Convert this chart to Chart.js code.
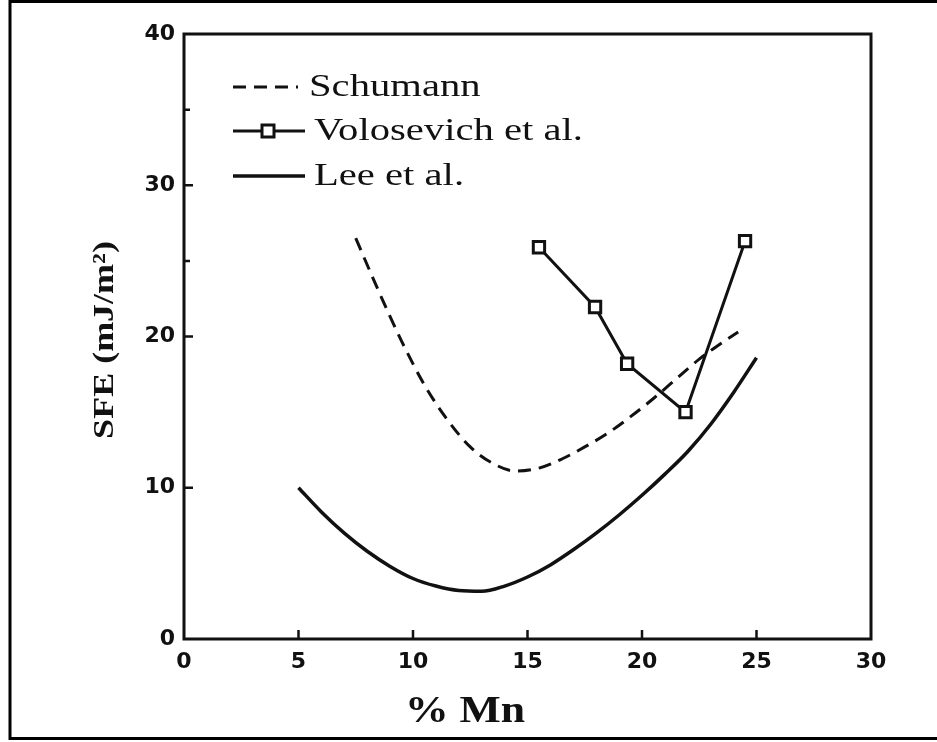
<!DOCTYPE html>
<html>
<head>
<meta charset="utf-8">
<script src="https://cdn.jsdelivr.net/npm/chart.js@4.4.1/dist/chart.umd.min.js"></script>
<style>
  html, body { margin: 0; padding: 0; background: #fff; }
  #wrap { width: 937px; height: 742px; }
</style>
</head>
<body>
<div id="wrap"><canvas id="sfeChart" width="937" height="742"></canvas></div>
<script>
// SFE vs Mn content

// Schumann (dashed curve)
const schumannMn  = [7.5, 8.5, 9.5, 10.5, 11.5, 12.5, 13.5, 14.5, 15.5, 16.5, 17.5, 18.5, 19.5, 20.5, 21.5, 22.5, 23.5, 24.2];
const schumannSfe = [26.5, 23.0, 19.7, 16.8, 14.5, 12.7, 11.6, 11.1, 11.3, 11.9, 12.7, 13.6, 14.7, 15.9, 17.2, 18.5, 19.6, 20.3];

// Volosevich et al. (squares joined by straight lines)
const voloMn  = [15.5, 17.95, 19.35, 21.9, 24.5];
const voloSfe = [25.9, 21.95, 18.2, 15.0, 26.3];

// Lee et al. (solid curve)
const leeMn  = [5, 6, 7, 8, 9, 10, 11, 12, 13, 14, 15, 16, 17, 18, 19, 20, 21, 22, 23, 24, 25];
const leeSfe = [10.0, 8.4, 7.0, 5.8, 4.8, 4.0, 3.5, 3.2, 3.15, 3.5, 4.1, 4.9, 5.9, 7.0, 8.2, 9.5, 10.9, 12.4, 14.2, 16.3, 18.6];

// axis ticks
const xTicks = [0, 5, 10, 15, 20, 25, 30];
const yTicks = [0, 10, 20, 30, 40];
const yMinorTicks = [25, 35];

const legendNames = ['Schumann', 'Volosevich et al.', 'Lee et al.'];

const ink = '#111';
const serif = '"Liberation Serif", "DejaVu Serif", serif';

// helper: zip two arrays into {x, y} points
function toPoints(xs, ys) {
    return xs.map((x, i) => ({ x: x, y: ys[i] }));
}

// text that is a bit wider than the font, like the scanned figure
function wideText(ctx, text, x, y, stretch) {
    ctx.save();
    ctx.translate(x, y);
    ctx.scale(stretch, 1);
    ctx.fillText(text, 0, 0);
    ctx.restore();
}

// frame, plot box, inner ticks, legend and axis titles
const decorPlugin = {
    id: 'decor',
    beforeDraw(chart) {
        const ctx = chart.ctx;
        ctx.save();
        ctx.fillStyle = '#fff';
        ctx.fillRect(0, 0, chart.width, chart.height);
        // outer figure frame (no right side)
        ctx.strokeStyle = '#000';
        ctx.lineWidth = 3;
        ctx.beginPath();
        ctx.moveTo(937, 1.5);
        ctx.lineTo(10, 1.5);
        ctx.lineTo(10, 738.5);
        ctx.lineTo(937, 738.5);
        ctx.stroke();
        ctx.restore();
    },
    afterDraw(chart) {
        const ctx = chart.ctx;
        const a = chart.chartArea;
        const xs = chart.scales.x;
        const ys = chart.scales.y;
        ctx.save();

        // plot box
        ctx.strokeStyle = ink;
        ctx.lineWidth = 3;
        ctx.strokeRect(a.left, a.top, a.right - a.left, a.bottom - a.top);

        // inward ticks
        ctx.lineWidth = 2.5;
        ctx.beginPath();
        xTicks.slice(1, -1).forEach(v => {
            const px = xs.getPixelForValue(v);
            ctx.moveTo(px, a.bottom);
            ctx.lineTo(px, a.bottom - 9);
        });
        yTicks.slice(1, -1).forEach(v => {
            const py = ys.getPixelForValue(v);
            ctx.moveTo(a.left, py);
            ctx.lineTo(a.left + 9, py);
        });
        yMinorTicks.forEach(v => {
            const py = ys.getPixelForValue(v);
            ctx.moveTo(a.left, py);
            ctx.lineTo(a.left + 6, py);
        });
        ctx.stroke();

        // legend
        const lx0 = 233, lx1 = 305;
        const rows = [87, 131, 176];
        ctx.font = '32px ' + serif;
        ctx.fillStyle = ink;
        ctx.textBaseline = 'middle';
        ctx.textAlign = 'left';
        chart.data.datasets.forEach((ds, i) => {
            const y = rows[i];
            ctx.strokeStyle = ink;
            ctx.lineWidth = ds.borderWidth;
            ctx.setLineDash(ds.borderDash || []);
            ctx.beginPath();
            ctx.moveTo(lx0, y);
            ctx.lineTo(i === 0 ? 298 : lx1, y);
            ctx.stroke();
            ctx.setLineDash([]);
            if (ds.pointStyle === 'rect') {
                ctx.fillStyle = '#fff';
                ctx.fillRect(262, y - 6, 12, 12);
                ctx.lineWidth = 3;
                ctx.strokeRect(262, y - 6, 12, 12);
                ctx.fillStyle = ink;
            }
            wideText(ctx, legendNames[i], i === 0 ? 309 : 314, y + 1, 1.27);
        });

        // axis titles
        ctx.fillStyle = ink;
        ctx.textAlign = 'center';
        ctx.font = 'bold 38px ' + serif;
        wideText(ctx, '% Mn', 465, 712, 1.15);

        ctx.translate(105, 340);
        ctx.rotate(-Math.PI / 2);
        ctx.font = 'bold 30px ' + serif;
        wideText(ctx, 'SFE (mJ/m²)', 0, 0, 1.2);

        ctx.restore();
    }
};

const tickFont = { family: '"DejaVu Sans", "Liberation Sans", sans-serif', size: 22, weight: 'bold' };

new Chart(document.getElementById('sfeChart').getContext('2d'), {
    type: 'line',
    data: {
        datasets: [
            {
                label: legendNames[0],
                data: toPoints(schumannMn, schumannSfe),
                borderColor: ink,
                borderWidth: 3,
                borderDash: [13, 8],
                pointRadius: 0,
                cubicInterpolationMode: 'monotone',
                fill: false
            },
            {
                label: legendNames[1],
                data: toPoints(voloMn, voloSfe),
                borderColor: ink,
                borderWidth: 3,
                pointStyle: 'rect',
                pointRadius: 8,
                pointBorderWidth: 3,
                pointBackgroundColor: '#fff',
                pointBorderColor: ink,
                tension: 0,
                fill: false
            },
            {
                label: legendNames[2],
                data: toPoints(leeMn, leeSfe),
                borderColor: ink,
                borderWidth: 3.5,
                pointRadius: 0,
                cubicInterpolationMode: 'monotone',
                fill: false
            }
        ]
    },
    options: {
        responsive: false,
        animation: false,
        devicePixelRatio: 1,
        layout: { padding: { top: 34, right: 66, left: 0, bottom: 0 } },
        plugins: {
            legend: { display: false },
            tooltip: { enabled: false }
        },
        scales: {
            x: {
                type: 'linear',
                min: 0,
                max: 30,
                afterFit(scale) { scale.height = 103; },
                afterBuildTicks(scale) { scale.ticks = xTicks.map(v => ({ value: v })); },
                grid: { display: false, drawTicks: false },
                border: { display: false },
                ticks: { font: tickFont, color: ink, padding: 10, maxRotation: 0 }
            },
            y: {
                type: 'linear',
                min: 0,
                max: 40,
                afterFit(scale) { scale.width = 184; },
                afterBuildTicks(scale) { scale.ticks = yTicks.map(v => ({ value: v })); },
                grid: { display: false, drawTicks: false },
                border: { display: false },
                ticks: { font: tickFont, color: ink, padding: 9 }
            }
        }
    },
    plugins: [decorPlugin]
});
</script>
</body>
</html>
